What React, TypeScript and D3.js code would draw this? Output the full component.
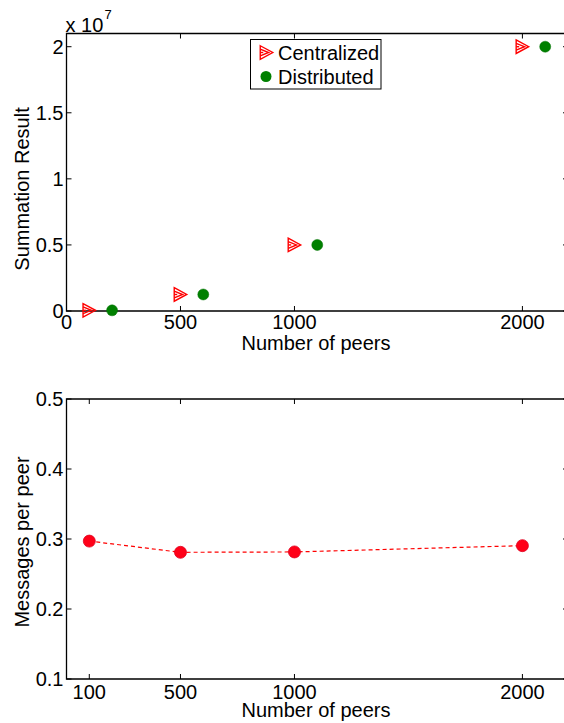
import React from "react";
import * as d3 from "d3";

const peersCentral = [100, 500, 1000, 2000];
const peersDistributed = [200, 600, 1100, 2100];
const sumCentral = [5e4, 1.25e6, 5e6, 2e7];
const sumDistributed = [5e4, 1.25e6, 5e6, 2e7];
const topXTicks = [0, 500, 1000, 2000];
const topYTicks = [0, 0.5e7, 1e7, 1.5e7, 2e7];

const peersMsg = [100, 500, 1000, 2000];
const msgPerPeer = [0.297, 0.281, 0.2815, 0.2905];
const botXTicks = [100, 500, 1000, 2000];
const botYTicks = [0.1, 0.2, 0.3, 0.4, 0.5];

const W = 564;
const H = 723;
const FONT = "'Liberation Sans', Arial, Helvetica, sans-serif";
const FS = 20;

const L = 66.5;
const R = 568;
const T1 = 33.5;
const B1 = 311;
const T2 = 399;
const B2 = 679;

const x = d3.scaleLinear().domain([0, 2200]).range([L, R]);
const y1 = d3.scaleLinear().domain([0, 2.1e7]).range([B1, T1]);
const y2 = d3.scaleLinear().domain([0.1, 0.5]).range([B2, T2]);

const fmtTop = (v: number) => d3.format("~g")(v / 1e7);

function Triangle({ cx, cy }: { cx: number; cy: number }) {
  const w = 12.5;
  const h = 13.5;
  const outer = `M${cx - w / 2},${cy - h / 2} L${cx + w / 2},${cy} L${cx - w / 2},${cy + h / 2} Z`;
  const inner = `M${cx - w / 2},${cy - h / 4} L${cx + w / 6},${cy} L${cx - w / 2},${cy + h / 4}`;
  return (
    <g stroke="#ff0000" strokeWidth={1.4} fill="none">
      <path d={outer} />
      <path d={inner} />
      <line x1={cx - w / 2} x2={cx - w / 2 + 3} y1={cy} y2={cy} />
    </g>
  );
}

export default function App() {
  const tick = 5;
  const line = d3
    .line<number>()
    .x((_, i) => x(peersMsg[i]))
    .y((d) => y2(d));
  return (
    <svg
      width={W}
      height={H}
      style={{ position: "absolute", left: 0, top: 0, background: "#fff" }}
      fontFamily={FONT}
    >
      <rect x={0} y={0} width={W} height={H} fill="#fff" />
      {/* ---------- Top chart ---------- */}
      <g>
        {topXTicks.map((t) => (
          <g key={"tx" + t}>
            <line x1={x(t)} x2={x(t)} y1={B1} y2={B1 - tick} stroke="#000" />
            <line x1={x(t)} x2={x(t)} y1={T1} y2={T1 + tick} stroke="#000" />
            <text x={x(t)} y={B1 + 18} fontSize={FS} textAnchor="middle">
              {t}
            </text>
          </g>
        ))}
        {topYTicks.map((t) => (
          <g key={"ty" + t}>
            <line x1={L} x2={L + tick} y1={y1(t)} y2={y1(t)} stroke="#000" />
            <line x1={R} x2={R - tick} y1={y1(t)} y2={y1(t)} stroke="#000" />
            <text x={L - 3} y={y1(t) + 7} fontSize={FS} textAnchor="end">
              {fmtTop(t)}
            </text>
          </g>
        ))}
        <path
          d={`M${L},${T1} H${R} V${B1} H${L} Z`}
          fill="none"
          stroke="#000"
          strokeWidth={1.3}
        />
        <text x={L - 1} y={32} fontSize={FS}>
          x 10
        </text>
        <text x={L + 38} y={19} fontSize={13}>
          7
        </text>
        <text x={316} y={350} fontSize={FS} textAnchor="middle">
          Number of peers
        </text>
        <text
          transform={`translate(29,189) rotate(-90)`}
          fontSize={FS}
          textAnchor="middle"
        >
          Summation Result
        </text>
        {peersCentral.map((p, i) => (
          <Triangle key={"c" + p} cx={x(p)} cy={y1(sumCentral[i])} />
        ))}
        {peersDistributed.map((p, i) => (
          <circle
            key={"d" + p}
            cx={x(p)}
            cy={y1(sumDistributed[i])}
            r={5.5}
            fill="#008000"
            stroke="#007000"
            strokeWidth={0.5}
          />
        ))}
        {/* legend */}
        <rect
          x={250.5}
          y={39.5}
          width={130.5}
          height={49.5}
          fill="#fff"
          stroke="#000"
          strokeWidth={1}
        />
        <Triangle cx={266.5} cy={52.5} />
        <text x={278} y={59.5} fontSize={FS}>
          Centralized
        </text>
        <circle cx={266} cy={76.5} r={5.5} fill="#008000" />
        <text x={278} y={83.5} fontSize={FS}>
          Distributed
        </text>
      </g>

      {/* ---------- Bottom chart ---------- */}
      <g>
        {botXTicks.map((t) => (
          <g key={"bx" + t}>
            <line x1={x(t)} x2={x(t)} y1={B2} y2={B2 - tick} stroke="#000" />
            <line x1={x(t)} x2={x(t)} y1={T2} y2={T2 + tick} stroke="#000" />
            <text x={x(t)} y={B2 + 20} fontSize={FS} textAnchor="middle">
              {t}
            </text>
          </g>
        ))}
        {botYTicks.map((t) => (
          <g key={"by" + t}>
            <line x1={L} x2={L + tick} y1={y2(t)} y2={y2(t)} stroke="#000" />
            <line x1={R} x2={R - tick} y1={y2(t)} y2={y2(t)} stroke="#000" />
            <text x={L - 3} y={y2(t) + 7} fontSize={FS} textAnchor="end">
              {t.toFixed(1)}
            </text>
          </g>
        ))}
        <path
          d={`M${L},${T2} H${R} V${B2} H${L} Z`}
          fill="none"
          stroke="#000"
          strokeWidth={1.3}
        />
        <text x={316} y={717} fontSize={FS} textAnchor="middle">
          Number of peers
        </text>
        <text
          transform={`translate(29,542) rotate(-90)`}
          fontSize={FS}
          textAnchor="middle"
        >
          Messages per peer
        </text>
        <path
          d={line(msgPerPeer) || ""}
          fill="none"
          stroke="#ff0000"
          strokeWidth={1.2}
          strokeDasharray="4,3"
        />
        {peersMsg.map((p, i) => (
          <circle
            key={"m" + p}
            cx={x(p)}
            cy={y2(msgPerPeer[i])}
            r={6}
            fill="#ff0018"
            stroke="#e00020"
            strokeWidth={0.8}
          />
        ))}
      </g>
    </svg>
  );
}
